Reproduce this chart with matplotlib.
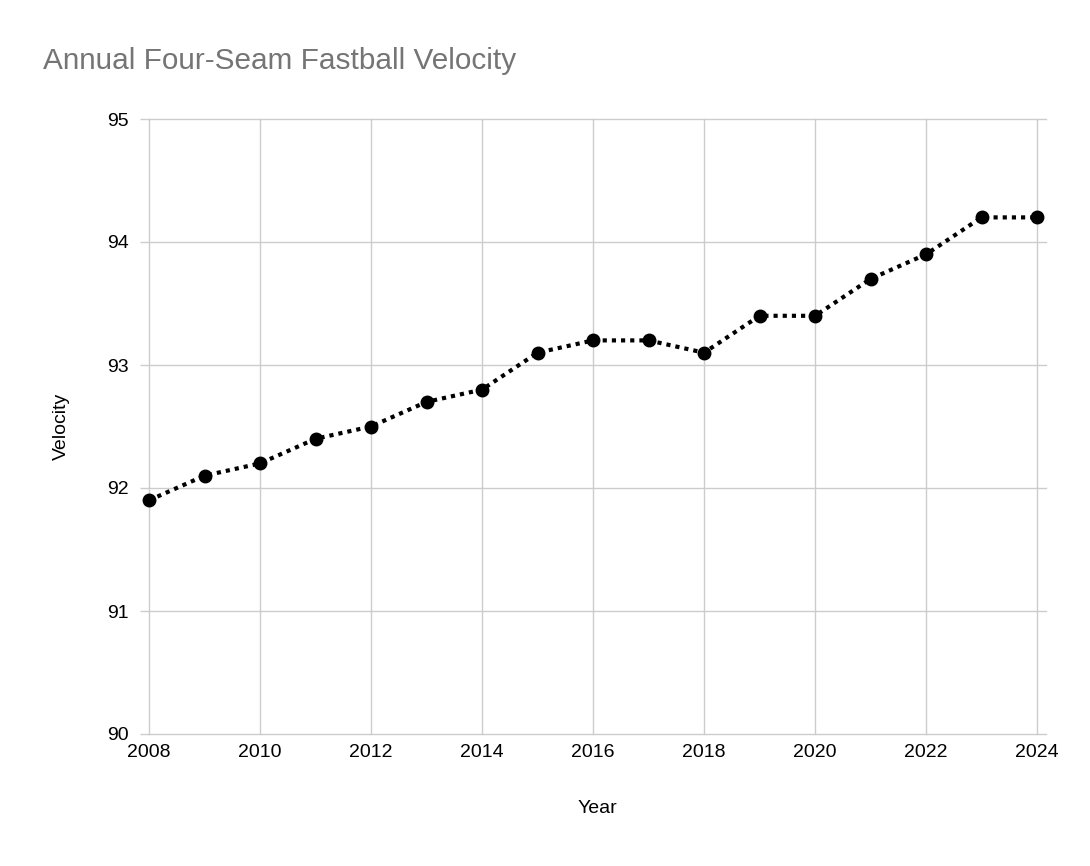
import matplotlib.pyplot as plt
import numpy as np

# Data
years = [2008, 2009, 2010, 2011, 2012, 2013, 2014, 2015, 2016,
         2017, 2018, 2019, 2020, 2021, 2022, 2023, 2024]
velocity = [91.9, 92.1, 92.2, 92.4, 92.5, 92.7, 92.8, 93.1, 93.2,
            93.2, 93.1, 93.4, 93.4, 93.7, 93.9, 94.2, 94.2]
x_ticks = [2008, 2010, 2012, 2014, 2016, 2018, 2020, 2022, 2024]
y_ticks = [90, 91, 92, 93, 94, 95]

plt.rcParams['font.family'] = ['Liberation Sans', 'DejaVu Sans']

fig = plt.figure(figsize=(10.9, 8.66), dpi=100)
ax = fig.add_axes([149 / 1090, 1 - 734 / 866, (1046 - 149) / 1090, (734 - 119) / 866])

grid_color = '#cccccc'

# Line with markers
ax.plot(years, velocity, color='black', linestyle=(0, (1, 1.2)), linewidth=3,
        marker='o', markersize=9, zorder=3, clip_on=False)

ax.set_xlim(2008, 2024.16)
ax.set_ylim(90, 95)
ax.set_xticks(x_ticks)
ax.set_yticks(y_ticks)
ax.set_xticklabels([str(t) for t in x_ticks], fontsize=14)
ax.set_yticklabels([str(t) for t in y_ticks], fontsize=14)

ax.grid(True, color=grid_color, linewidth=1)
ax.set_axisbelow(True)
for gl in ax.get_xgridlines() + ax.get_ygridlines():
    gl.set_clip_on(False)
for s in ax.spines.values():
    s.set_visible(False)

ax.tick_params(axis='y', length=6.5, color=grid_color, width=1, pad=8)
ax.tick_params(axis='x', length=0, pad=7)

ax.set_xlabel('Year', fontsize=14, labelpad=28)
ax.set_ylabel('Velocity', fontsize=14, labelpad=27)

fig.text(43 / 1090, 1 - 61 / 866, 'Annual Four-Seam Fastball Velocity',
         fontsize=21.4, color='#757575', va='center', ha='left')

fig.savefig('out.png', dpi=100)
